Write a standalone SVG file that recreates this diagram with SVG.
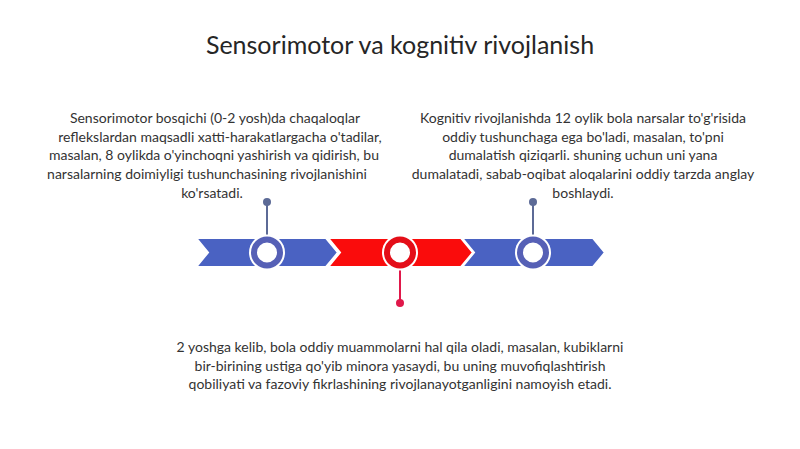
<svg xmlns="http://www.w3.org/2000/svg" width="800" height="449" viewBox="0 0 800 449">
  <style>
    .t { font-family: Lato, "Noto Sans", "Liberation Sans", sans-serif; font-size: 14px; fill: #333333; text-anchor: middle; }
    .title { font-family: Lato, "Liberation Sans", sans-serif; font-size: 25px; fill: #262626; text-anchor: middle; }
    .segB { fill: #4a62c2; stroke: #ffffff; stroke-width: 2; }
    .segR { fill: #fa0c0c; stroke: #ffffff; stroke-width: 2; }
    .halo { fill: #ffffff; }
    .ringB { fill: #ffffff; stroke: #5660b6; stroke-width: 6; }
    .ringR { fill: #ffffff; stroke: #e40e18; stroke-width: 6; }
    .pinB { stroke: #5c6a96; stroke-width: 2; }
    .pinR { stroke: #e0184a; stroke-width: 2; }
    .dotB { fill: #5c6a96; }
    .dotR { fill: #e0184a; }
  </style>
  <rect width="800" height="449" fill="#ffffff"/>
  <g id="title">
    <text class="title" x="400" y="54">Sensorimotor va kognitiv rivojlanish</text>
  </g>
  <g id="segments">
    <polygon class="segB" points="196,238 326,238 338,252.5 326,267 196,267 208,252.5"/>
    <polygon class="segR" points="328,238 461,238 473,252.5 461,267 328,267 340,252.5"/>
    <polygon class="segB" points="462,238 593,238 605,252.5 593,267 462,267 474,252.5"/>
  </g>
  <g id="connectors">
    <line class="pinB" x1="267" y1="203" x2="267" y2="237"/>
    <circle class="dotB" cx="267" cy="202" r="4"/>
    <line class="pinB" x1="533" y1="203" x2="533" y2="237"/>
    <circle class="dotB" cx="533" cy="202" r="4"/>
    <line class="pinR" x1="400" y1="268" x2="400" y2="302"/>
    <circle class="dotR" cx="400" cy="303" r="4"/>
  </g>
  <g id="node-sensorimotor">
    <circle class="halo" cx="267" cy="252.5" r="18"/>
    <circle class="ringB" cx="267" cy="252.5" r="13"/>
    <text class="t" x="215" y="123">Sensorimotor bosqichi (0-2 yosh)da chaqaloqlar</text>
    <text class="t" x="220" y="141.7">reflekslardan maqsadli xatti-harakatlargacha o'tadilar,</text>
    <text class="t" x="214" y="160.4">masalan, 8 oylikda o'yinchoqni yashirish va qidirish, bu</text>
    <text class="t" x="207" y="179.1">narsalarning doimiyligi tushunchasining rivojlanishini</text>
    <text class="t" x="212" y="197.8">ko'rsatadi.</text>
  </g>
  <g id="node-problem-solving">
    <circle class="halo" cx="400" cy="252.5" r="18"/>
    <circle class="ringR" cx="400" cy="252.5" r="13"/>
    <text class="t" x="400" y="352">2 yoshga kelib, bola oddiy muammolarni hal qila oladi, masalan, kubiklarni</text>
    <text class="t" x="400" y="370.7">bir-birining ustiga qo'yib minora yasaydi, bu uning muvofiqlashtirish</text>
    <text class="t" x="400" y="389.4">qobiliyati va fazoviy fikrlashining rivojlanayotganligini namoyish etadi.</text>
  </g>
  <g id="node-cognitive">
    <circle class="halo" cx="533" cy="252.5" r="18"/>
    <circle class="ringB" cx="533" cy="252.5" r="13"/>
    <text class="t" x="583" y="123">Kognitiv rivojlanishda 12 oylik bola narsalar to'g'risida</text>
    <text class="t" x="583" y="141.7">oddiy tushunchaga ega bo'ladi, masalan, to'pni</text>
    <text class="t" x="583" y="160.4">dumalatish qiziqarli. shuning uchun uni yana</text>
    <text class="t" x="583" y="179.1">dumalatadi, sabab-oqibat aloqalarini oddiy tarzda anglay</text>
    <text class="t" x="583" y="197.8">boshlaydi.</text>
  </g>
</svg>
